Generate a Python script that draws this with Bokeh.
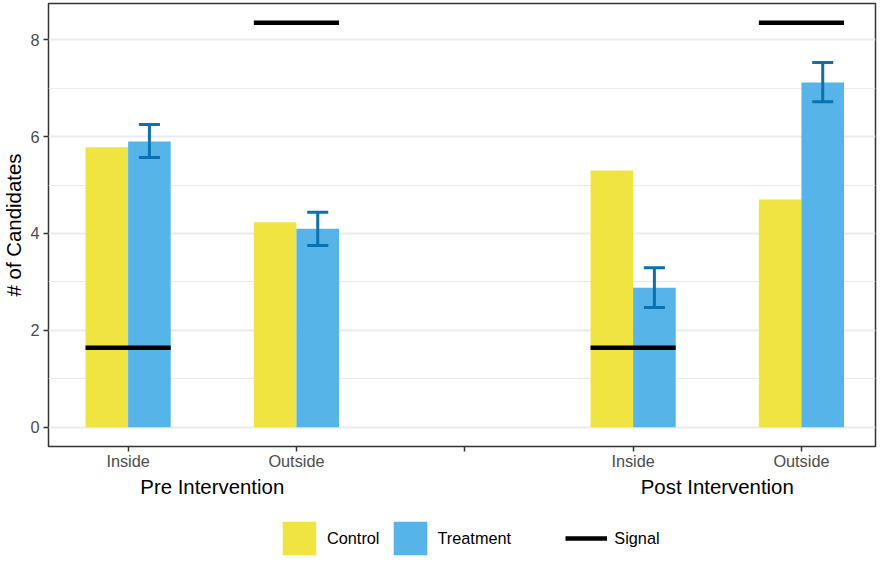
from bokeh.plotting import figure
from bokeh.layouts import column
from bokeh.models import (Range1d, FixedTicker, LinearAxis, Legend, LegendItem,
                          ColumnDataSource)
from bokeh.embed import file_html
from bokeh.resources import INLINE

# ---- data ----
groups = ["Pre Intervention", "Post Intervention"]
locations = ["Inside", "Outside"]
control = [5.78, 4.23, 5.30, 4.70]
treatment = [5.90, 4.10, 2.88, 7.12]
treat_lo = [5.57, 3.75, 2.47, 6.72]
treat_hi = [6.25, 4.44, 3.29, 7.53]
signal = [1.64, 8.35, 1.64, 8.35]
legend_labels = ["Control", "Treatment", "Signal"]

# category positions: groups separated by an empty slot
pos = []
for gi, g in enumerate(groups):
    for li, l in enumerate(locations):
        pos.append(1 + gi * (len(locations) + 1) + li)
group_centers = [sum(pos[gi*2:gi*2+2]) / 2 for gi in range(len(groups))]

BW = 0.253
CTRL = "#F0E442"
TREAT = "#56B4E9"
ERR = "#0A72B0"
FONT = "Liberation Sans"

p = figure(width=877, height=500, output_backend="svg", toolbar_location=None,
           x_range=Range1d(0.527, 5.44), y_range=Range1d(-0.40, 8.75),
           min_border_top=3, min_border_right=2, min_border_bottom=54,
           min_border_left=0, x_axis_type=None)
p.background_fill_color = "white"
p.border_fill_color = "white"
p.outline_line_color = "#333333"
p.outline_line_width = 1.5

src = ColumnDataSource(dict(
    x=pos,
    xc=[x - BW / 2 for x in pos],
    xt=[x + BW / 2 for x in pos],
    x0=[x - BW for x in pos],
    x1=[x + BW for x in pos],
    control=control, treatment=treatment,
    lo=treat_lo, hi=treat_hi,
    cl=[x + BW / 2 - 0.0625 for x in pos],
    cr=[x + BW / 2 + 0.0625 for x in pos],
    signal=signal,
))

bar_c = dict(x="xc", top="control", bottom=0, width=BW, source=src,
             fill_color=CTRL, line_color=None)
bar_t = dict(x="xt", top="treatment", bottom=0, width=BW, source=src,
             fill_color=TREAT, line_color=None)
sig = dict(x0="x0", y0="signal", x1="x1", y1="signal", source=src,
           line_color="black", line_width=4.5, line_cap="butt")

p.vbar(**bar_c)
p.vbar(**bar_t)
p.segment(x0="xt", y0="lo", x1="xt", y1="hi", source=src, line_color=ERR, line_width=3)
p.segment(x0="cl", y0="lo", x1="cr", y1="lo", source=src, line_color=ERR, line_width=3)
p.segment(x0="cl", y0="hi", x1="cr", y1="hi", source=src, line_color=ERR, line_width=3)
p.segment(**sig)

# ---- axes ----
xticks = list(range(1, max(pos) + 1))
labels = {}
for x in xticks:
    labels[x] = ""
for i, x in enumerate(pos):
    labels[x] = locations[i % len(locations)]

ax = LinearAxis(ticker=FixedTicker(ticks=xticks),
                major_label_overrides=labels)
ax.axis_line_color = None
ax.major_tick_line_color = "#333333"
ax.major_tick_line_width = 1.5
ax.major_tick_out = 5
ax.major_tick_in = 0
ax.minor_tick_line_color = None
ax.major_label_standoff = 0
ax.major_label_text_font = FONT
ax.major_label_text_font_size = "16.3px"
ax.major_label_text_color = "#4D4D4D"
p.add_layout(ax, "below")

gax = LinearAxis(ticker=FixedTicker(ticks=group_centers),
                 major_label_overrides={c: g for c, g in zip(group_centers, groups)})
gax.axis_line_color = None
gax.major_tick_line_color = None
gax.major_tick_out = 0
gax.major_tick_in = 0
gax.minor_tick_line_color = None
gax.major_label_standoff = 3
gax.major_label_text_font = FONT
gax.major_label_text_font_size = "20.4px"
gax.major_label_text_color = "black"
p.add_layout(gax, "below")

yax = p.yaxis[0]
yax.ticker = FixedTicker(ticks=[0, 2, 4, 6, 8], minor_ticks=[1, 3, 5, 7])
yax.axis_line_color = None
yax.major_tick_line_color = "#333333"
yax.major_tick_line_width = 1.5
yax.major_tick_out = 5
yax.major_tick_in = 0
yax.minor_tick_line_color = None
yax.major_label_standoff = 4
yax.major_label_text_font = FONT
yax.major_label_text_font_size = "16.3px"
yax.major_label_text_color = "#4D4D4D"
yax.axis_label = "# of Candidates"
yax.axis_label_text_font = FONT
yax.axis_label_text_font_size = "20.4px"
yax.axis_label_text_font_style = "normal"
yax.axis_label_text_color = "black"
yax.axis_label_standoff = 2

# ---- grid ----
p.xgrid.ticker = FixedTicker(ticks=xticks, minor_ticks=[x + 0.5 for x in xticks[:-1]])
p.xgrid.grid_line_color = "#EBEBEB"
p.xgrid.grid_line_width = 2
p.xgrid.minor_grid_line_color = "#EBEBEB"
p.xgrid.minor_grid_line_width = 1.2
p.ygrid.ticker = FixedTicker(ticks=[0, 2, 4, 6, 8], minor_ticks=[1, 3, 5, 7])
p.ygrid.grid_line_color = "#EBEBEB"
p.ygrid.grid_line_width = 2
p.ygrid.minor_grid_line_color = "#EBEBEB"
p.ygrid.minor_grid_line_width = 1.2

# ---- legend strip (separate figure, no axes; its ranges keep the marks out of view) ----
lf = figure(width=877, height=59, output_backend="svg", toolbar_location=None,
            x_range=Range1d(100, 101), y_range=Range1d(100, 101),
            x_axis_type=None, y_axis_type=None, min_border=0)
lf.outline_line_color = None
lf.background_fill_color = "white"
lf.border_fill_color = "white"
lf.grid.visible = False
lr_c = lf.vbar(**bar_c)
lr_t = lf.vbar(**bar_t)
lr_s = lf.segment(**sig)

NBSP = "\u00a0"
legend = Legend(items=[LegendItem(label=legend_labels[0], renderers=[lr_c]),
                       LegendItem(label=legend_labels[1] + NBSP * 10, renderers=[lr_t]),
                       LegendItem(label=legend_labels[2], renderers=[lr_s])],
                location=(230, 0), orientation="horizontal",
                glyph_width=42, glyph_height=42, label_standoff=7,
                spacing=9, padding=0, margin=0, border_line_color=None,
                background_fill_alpha=0, label_text_font=FONT,
                label_text_font_size="16.3px", label_text_color="black")
lf.add_layout(legend, "center")

open("out.html", "w").write(file_html(column(p, lf, spacing=0), INLINE))
